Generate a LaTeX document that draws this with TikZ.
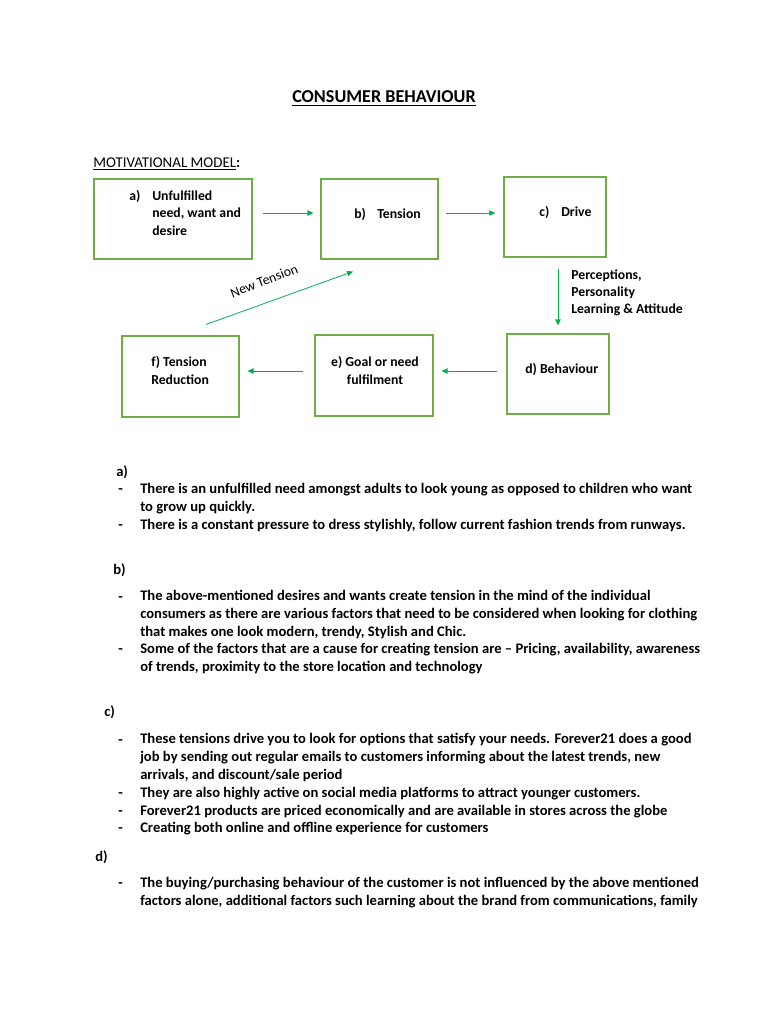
\documentclass[tikz,border=0pt]{standalone}
\usepackage{fontspec}
\setmainfont{Carlito}
\usetikzlibrary{arrows.meta}
\definecolor{boxgreen}{HTML}{70AD47}
\definecolor{arrowgreen}{HTML}{00B050}
\tikzset{
    modelbox/.style={draw=boxgreen, line width=0.8pt, minimum height=60pt, inner sep=0pt},
    boxlabel/.style={font=\bfseries\fontsize{10.3}{13.125}\selectfont, inner sep=0pt, anchor=base west, align=left},
    flowarrow/.style={draw=arrowgreen, line width=0.6pt, -{Triangle[length=4.5pt, width=4pt]}},
    headtext/.style={font=\fontsize{11.2}{13.2}\selectfont, inner sep=0pt, anchor=base west},
    bodytext/.style={font=\bfseries\fontsize{10.95}{13.2}\selectfont, inner sep=0pt, anchor=base west, align=left}
}
\begin{document}
\begin{tikzpicture}[x=0.75pt, y=-0.75pt]
    \useasboundingbox[fill=white] (0,0) rectangle (768,1024);

    % headings
    \node[font=\bfseries\fontsize{13.6}{16}\selectfont, inner sep=0pt, anchor=base] (title) at (384,103) {\underline{CONSUMER BEHAVIOUR}};
    \node[headtext] (model) at (93,167) {\underline{MOTIVATIONAL MODEL}\textbf{:}};

    % motivational model boxes
    \node[modelbox, line width=1.1pt, minimum width=118.5pt] (need) at (173,219) {};
    \node[modelbox, minimum width=87.75pt] (tension) at (379.5,219) {};
    \node[modelbox, line width=1pt, minimum width=76.5pt] (drive) at (555,217) {};
    \node[modelbox, minimum width=76.5pt] (behav) at (558,374) {};
    \node[modelbox, minimum width=88.5pt, minimum height=60.75pt] (goal) at (374,375.5) {};
    \node[modelbox, minimum width=87.75pt, minimum height=60.75pt] (reduce) at (180.5,376.5) {};

    % box texts (multi-line nodes sit on their last line)
    \node[boxlabel] (needno) at (129,200) {a)};
    \node[boxlabel] (needtxt) at (152,235) {Unfulfilled\\need, want and\\desire};
    \node[boxlabel] (tensionno) at (354,218) {b)};
    \node[boxlabel] (tensiontxt) at (377,218) {Tension};
    \node[boxlabel] (driveno) at (539,216) {c)};
    \node[boxlabel] (drivetxt) at (561,216) {Drive};
    \node[boxlabel] (behavtxt) at (525,373) {d) Behaviour};
    \node[boxlabel, anchor=base, align=center] (goaltxt) at (375,384) {e) Goal or need\\fulfilment};
    \node[boxlabel] (reducetxt) at (151,384) {f) Tension\\Reduction};
    \node[boxlabel, font=\bfseries\fontsize{10.3}{12.75}\selectfont] (factors) at (571,313) {Perceptions,\\Personality\\Learning \& Attitude};

    \draw[flowarrow] ([shift={(10,-6)}]need.east) -- ([shift={(-7,-6)}]tension.west);
    \draw[flowarrow] ([shift={(7,-6)}]tension.east) -- ([shift={(-8,-4)}]drive.west);
    \draw[flowarrow] ([shift={(3,11)}]drive.south) -- ([shift={(0,-8)}]behav.north);
    \draw[flowarrow] ([shift={(-9,-3)}]behav.west) -- ([shift={(8,-4.5)}]goal.east);
    \draw[flowarrow] ([shift={(-11,-4.5)}]goal.west) -- ([shift={(8,-5.5)}]reduce.east);
    \draw[flowarrow] ([shift={(25.5,-11)}]reduce.north) -- ([shift={(-26.5,12)}]tension.south);
    \node[headtext, font=\fontsize{10.3}{12}\selectfont, anchor=center, rotate=21] (newtension) at (264,281) {New Tension};

    % notes under the model
    \node[bodytext] (parta) at (116,476) {a)};
    \node[bodytext] (partb) at (113,574) {b)};
    \node[bodytext] (partc) at (104,716) {c)};
    \node[bodytext] (partd) at (95,861) {d)};
    \foreach \y/\n in {493/a1, 529/a2, 601/b1, 653/b2, 744/c1, 797/c2, 815/c3, 832/c4, 887/d1}
        \node[bodytext] (dash\n) at (118,\y) {-};

    \node[bodytext] (notea1) at (140,511) {There is an unfulfilled need amongst adults to look young as opposed to children who want\\to grow up quickly.};
    \node[bodytext] (notea2) at (140,529) {There is a constant pressure to dress stylishly, follow current fashion trends from runways.};
    \node[bodytext] (noteb1) at (140,636) {The above-mentioned desires and wants create tension in the mind of the individual\\consumers as there are various factors that need to be considered when looking for clothing\\that makes one look modern, trendy, Stylish and Chic.};
    \node[bodytext] (noteb2) at (140,671) {Some of the factors that are a cause for creating tension are -- Pricing, availability, awareness\\of trends, proximity to the store location and technology};
    \node[bodytext] (notec1) at (140,779) {These tensions drive you to look for options that satisfy your needs. Forever21 does a good\\job by sending out regular emails to customers informing about the latest trends, new\\arrivals, and discount/sale period};
    \node[bodytext] (notec2) at (140,797) {They are also highly active on social media platforms to attract younger customers.};
    \node[bodytext] (notec3) at (140,815) {Forever21 products are priced economically and are available in stores across the globe};
    \node[bodytext] (notec4) at (140,832) {Creating both online and offline experience for customers};
    \node[bodytext] (noted1) at (140,905) {The buying/purchasing behaviour of the customer is not influenced by the above mentioned\\factors alone, additional factors such learning about the brand from communications, family};
\end{tikzpicture}
\end{document}
